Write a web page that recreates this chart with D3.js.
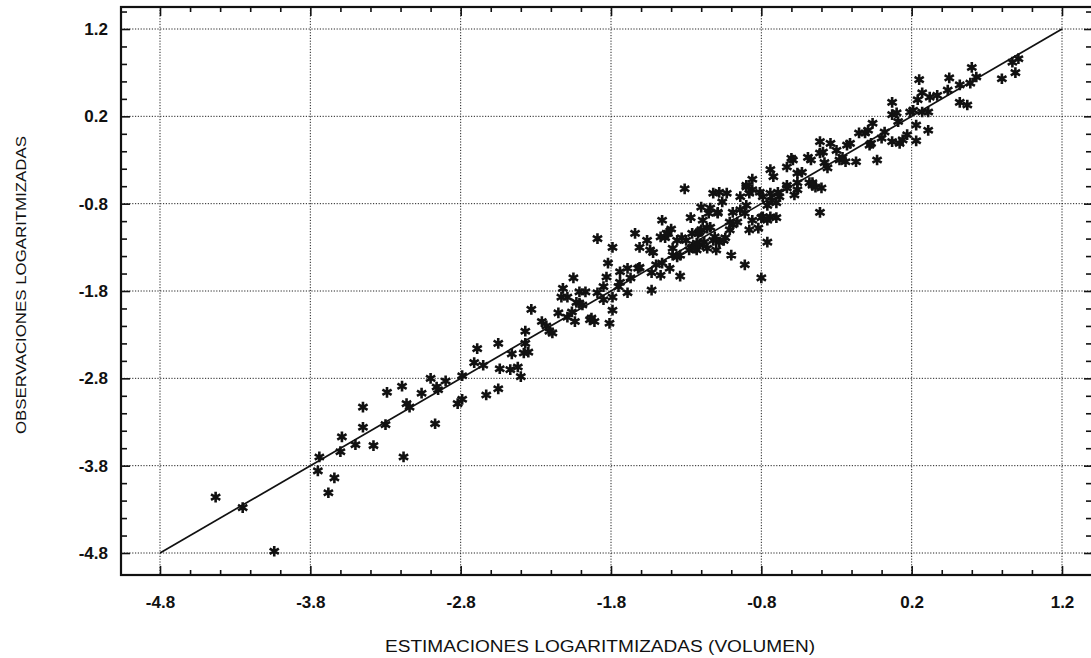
<!DOCTYPE html>
<html>
<head>
<meta charset="utf-8">
<script src="https://cdn.jsdelivr.net/npm/d3@7"></script>
<style>
  html, body { margin: 0; padding: 0; background: #fff; }
  svg { display: block; }
  text { font-family: Arial, "Liberation Sans", sans-serif; fill: #111; }
</style>
</head>
<body>
<svg id="chart" width="1091" height="658"></svg>
<script>
// ---- data ----
const xEst = [
  -4.43,-4.25,-4.04,-3.74,-3.75,-3.68,-3.64,-3.59,-3.60,-3.50,-3.45,-3.45,-3.38,-3.30,-3.29,-3.19,-3.18,-3.16,-3.14,-3.06,
  -3.00,-2.97,-2.96,-2.95,-2.90,-2.82,-2.79,-2.79,-2.71,-2.65,-2.69,-2.63,-2.55,-2.55,-2.54,-2.47,-2.46,-2.42,-2.40,-2.37,
  -2.37,-2.38,-2.35,-2.33,-2.26,-2.23,-2.21,-2.19,-2.15,-2.13,-2.12,-2.05,-2.09,-2.06,-2.04,-2.01,-1.97,-2.01,-1.94,-1.91,
  -1.89,-1.89,-1.85,-1.83,-1.82,-1.79,-1.79,-1.79,-1.75,-1.74,-1.69,-1.67,-1.69,-1.64,-1.62,-1.61,-1.56,-1.54,-1.52,-1.53,
  -1.47,-1.53,-1.50,-1.46,-1.41,-1.46,-1.44,-1.42,-1.39,-1.36,-1.40,-1.34,-1.36,-1.33,-1.30,-1.26,-1.31,-1.27,-1.23,-1.19,
  -1.16,-1.22,-1.20,-1.16,-1.19,-1.14,-1.12,-1.12,-1.08,-1.03,-1.14,-1.09,-1.10,-1.08,-1.05,-1.00,-1.01,-0.99,-0.94,-0.90,
  -0.86,-0.88,-0.82,-0.86,-0.91,-0.80,-0.90,-0.76,-0.73,-0.70,-0.68,-0.79,-0.74,-0.72,-0.76,-0.70,-0.63,-0.59,-0.56,-0.56,
  -0.86,-0.79,-0.74,-0.63,-0.58,-0.53,-0.48,-0.44,-0.40,-0.49,-0.47,-0.41,-0.41,-0.39,-0.38,-0.34,-0.36,-0.28,-0.24,-0.23,
  -0.21,-0.30,-0.17,-0.15,-0.11,-0.09,-0.07,-0.06,-0.03,0.00,0.02,0.07,0.07,0.10,0.11,0.07,0.12,0.14,0.17,0.19,
  0.21,0.23,0.23,0.24,0.27,0.27,0.31,0.32,0.31,0.37,0.44,0.52,0.57,0.52,0.59,0.25,0.45,0.60,0.63,0.80,
  0.87,0.91,0.89,-0.08,-0.26,-0.46,-0.94,-1.06,-1.20,-0.99,-0.91,-1.26,-1.11,-1.04,-1.18,-0.81,-0.69,-0.60,-0.41,-1.47,
  -1.28,-1.74,-1.61,-1.85,-2.03,-1.99,-1.93,-1.81,-2.09,
  -1.01,-1.24,-1.21,-1.15,-1.09,-0.96,-0.80,-0.76,-0.90,-0.88,-0.74,-0.63,-0.56,-0.46,-1.43,-1.39,-1.34,-1.23
];
const yObs = [
  -4.16,-4.28,-4.78,-3.70,-3.86,-4.11,-3.94,-3.47,-3.64,-3.56,-3.13,-3.36,-3.57,-3.33,-2.96,-2.89,-3.70,-3.09,-3.13,-2.97,
  -2.80,-3.32,-2.90,-2.93,-2.83,-3.09,-3.04,-2.77,-2.62,-2.65,-2.46,-2.99,-2.92,-2.40,-2.69,-2.70,-2.52,-2.67,-2.78,-2.26,
  -2.40,-2.51,-2.50,-2.01,-2.15,-2.20,-2.26,-2.28,-2.05,-1.87,-1.77,-1.65,-2.10,-2.04,-2.15,-1.81,-1.81,-1.94,-2.13,-2.15,
  -1.82,-1.20,-1.75,-1.64,-1.48,-1.87,-2.02,-1.30,-1.75,-1.70,-1.82,-1.65,-1.54,-1.14,-1.54,-1.30,-1.22,-1.33,-1.36,-1.59,
  -1.62,-1.79,-1.50,-1.48,-1.54,-0.99,-1.19,-1.14,-1.39,-1.41,-1.09,-1.63,-1.22,-1.19,-1.22,-1.30,-0.63,-0.96,-1.33,-1.27,
  -1.31,-1.14,-1.10,-1.08,-0.99,-1.07,-1.22,-0.68,-0.67,-0.68,-0.85,-0.91,-1.33,-1.24,-1.22,-1.39,-1.01,-1.04,-0.87,-0.82,
  -0.64,-1.10,-1.08,-0.52,-1.50,-1.65,-0.59,-0.82,-0.76,-0.79,-0.72,-0.72,-0.41,-0.49,-1.24,-0.96,-0.38,-0.30,-0.45,-0.56,
  -0.99,-0.95,-0.95,-0.62,-0.70,-0.44,-0.56,-0.61,-0.62,-0.27,-0.30,-0.90,-0.09,-0.21,-0.33,-0.11,-0.39,-0.30,-0.32,-0.13,
  -0.11,-0.19,-0.32,0.01,0.01,0.04,-0.11,0.12,-0.30,-0.05,0.02,0.36,0.22,0.24,0.14,-0.09,-0.11,-0.07,-0.01,0.25,
  0.27,0.10,-0.08,0.39,0.47,0.25,0.25,0.42,0.04,0.44,0.50,0.36,0.33,0.56,0.58,0.62,0.64,0.76,0.65,0.63,
  0.82,0.86,0.70,-0.13,-0.27,-0.59,-0.72,-0.78,-0.84,-0.90,-0.91,-1.14,-1.18,-1.19,-1.24,-0.67,-0.67,-0.28,-0.22,-1.18,
  -1.33,-1.58,-1.53,-1.90,-1.93,-1.96,-2.11,-2.17,-1.87,
  -1.10,-1.31,-1.12,-0.91,-0.90,-1.01,-0.96,-0.99,-0.61,-0.68,-0.68,-0.59,-0.64,-0.56,-1.14,-1.31,-1.39,-1.25
];
const fitX = [-4.8, 1.2];
const fitY = [-4.8, 1.2];
const majorTicks = [-4.8, -3.8, -2.8, -1.8, -0.8, 0.2, 1.2];
const tickLabels = ["-4.8", "-3.8", "-2.8", "-1.8", "-0.8", "0.2", "1.2"];
const xTitle = "ESTIMACIONES LOGARITMIZADAS (VOLUMEN)";
const yTitle = "OBSERVACIONES LOGARITMIZADAS";

// ---- layout ----
const frame = { left: 121, right: 1093, top: 7, bottom: 575 };
const x = d3.scaleLinear().domain([-4.8, 1.2]).range([160, 1062]);
const y = d3.scaleLinear().domain([-4.8, 1.2]).range([553, 29]);

const minorTicks = d3.range(-48, 14, 2).map(v => +(v / 10).toFixed(1))
  .filter(v => !majorTicks.includes(v));
const minorX = minorTicks.filter(v => x(v) > frame.left && x(v) < frame.right);
const minorY = minorTicks.concat([1.4]).filter(v => y(v) > frame.top && y(v) < frame.bottom);
const labelOf = v => tickLabels[majorTicks.indexOf(v)];

const svg = d3.select("#chart");

// gridlines (dotted)
const grid = svg.append("g").attr("stroke", "#222").attr("stroke-width", 1)
  .attr("stroke-dasharray", "1.2,1.6");
grid.selectAll("line.v").data(majorTicks).join("line")
  .attr("x1", d => x(d)).attr("x2", d => x(d))
  .attr("y1", frame.top).attr("y2", frame.bottom);
grid.selectAll("line.h").data(majorTicks).join("line")
  .attr("x1", frame.left).attr("x2", frame.right)
  .attr("y1", d => y(d)).attr("y2", d => y(d));

// frame
svg.append("rect")
  .attr("x", frame.left).attr("y", frame.top)
  .attr("width", frame.right - frame.left).attr("height", frame.bottom - frame.top)
  .attr("fill", "none").attr("stroke", "#111").attr("stroke-width", 2.2);

function styleAxis(g) {
  g.select(".domain").remove();
  g.selectAll(".tick line").attr("stroke", "#111").attr("stroke-width", 1.6);
}

// bottom axis
svg.append("g").attr("transform", `translate(0,${frame.bottom})`)
  .call(d3.axisBottom(x).tickValues(majorTicks).tickSize(-9).tickPadding(21)
    .tickFormat(labelOf))
  .call(styleAxis)
  .call(g => g.selectAll("text").style("font-size", "17px").style("font-weight", "bold")
    .attr("fill", "#111"));
svg.append("g").attr("transform", `translate(0,${frame.bottom})`)
  .call(d3.axisBottom(x).tickValues(minorX).tickSize(-5).tickFormat(""))
  .call(styleAxis);
// top axis
svg.append("g").attr("transform", `translate(0,${frame.top})`)
  .call(d3.axisTop(x).tickValues(majorTicks).tickSize(-9).tickFormat(""))
  .call(styleAxis);
svg.append("g").attr("transform", `translate(0,${frame.top})`)
  .call(d3.axisTop(x).tickValues(minorX).tickSize(-5).tickFormat(""))
  .call(styleAxis);
// left axis
svg.append("g").attr("transform", `translate(${frame.left},0)`)
  .call(d3.axisLeft(y).tickValues(majorTicks).tickSize(-9).tickPadding(13)
    .tickFormat(labelOf))
  .call(styleAxis)
  .call(g => g.selectAll("text").style("font-size", "17px").style("font-weight", "bold")
    .attr("fill", "#111"));
svg.append("g").attr("transform", `translate(${frame.left},0)`)
  .call(d3.axisLeft(y).tickValues(minorY).tickSize(-6).tickFormat(""))
  .call(styleAxis);
// right axis
svg.append("g").attr("transform", `translate(${frame.right},0)`)
  .call(d3.axisRight(y).tickValues(majorTicks).tickSize(-9).tickFormat(""))
  .call(styleAxis);
svg.append("g").attr("transform", `translate(${frame.right},0)`)
  .call(d3.axisRight(y).tickValues(minorY).tickSize(-7).tickFormat(""))
  .call(styleAxis);

// fitted line y = x
svg.append("path")
  .datum(fitX.map((v, i) => [v, fitY[i]]))
  .attr("d", d3.line().x(d => x(d[0])).y(d => y(d[1])))
  .attr("fill", "none").attr("stroke", "#111").attr("stroke-width", 1.7);

// points (asterisks)
const pts = xEst.map((v, i) => [v, yObs[i]]);
const star = d3.symbol().type(d3.symbolAsterisk).size(80);
svg.append("g").selectAll("path").data(pts).join("path")
  .attr("transform", d => `translate(${x(d[0])},${y(d[1])})`)
  .attr("d", star)
  .attr("fill", "none").attr("stroke", "#111").attr("stroke-width", 2.6);

// titles
svg.append("text")
  .attr("x", 600).attr("y", 652)
  .attr("text-anchor", "middle")
  .attr("textLength", 430).attr("lengthAdjust", "spacingAndGlyphs")
  .style("font-size", "16px")
  .text(xTitle);
svg.append("text")
  .attr("transform", "translate(26,285) rotate(-90)")
  .attr("text-anchor", "middle")
  .attr("textLength", 298).attr("lengthAdjust", "spacingAndGlyphs")
  .style("font-size", "15px")
  .text(yTitle);
</script>
</body>
</html>
